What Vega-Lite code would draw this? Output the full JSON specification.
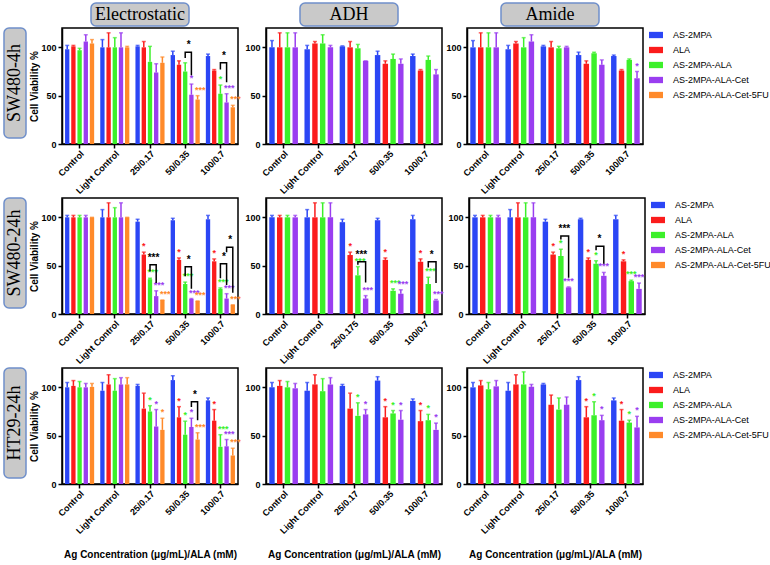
{
"$schema": "https://vega.github.io/schema/vega-lite/v6.json",
"padding": {"left": 3, "top": 2, "right": 0, "bottom": 0},
"background": "white",
"datasets": {
"bars": [
{"r":"SW480-4h","c":"Electrostatic","g":"Control","s":"AS-2MPA","v":98,"hi":102},
{"r":"SW480-4h","c":"Electrostatic","g":"Control","s":"ALA","v":101,"hi":102},
{"r":"SW480-4h","c":"Electrostatic","g":"Control","s":"AS-2MPA-ALA","v":97,"hi":99},
{"r":"SW480-4h","c":"Electrostatic","g":"Control","s":"AS-2MPA-ALA-Cet","v":106,"hi":113},
{"r":"SW480-4h","c":"Electrostatic","g":"Control","s":"AS-2MPA-ALA-Cet-5FU","v":104,"hi":108},
{"r":"SW480-4h","c":"Electrostatic","g":"Light Control","s":"AS-2MPA","v":100,"hi":108},
{"r":"SW480-4h","c":"Electrostatic","g":"Light Control","s":"ALA","v":100,"hi":115},
{"r":"SW480-4h","c":"Electrostatic","g":"Light Control","s":"AS-2MPA-ALA","v":100,"hi":110},
{"r":"SW480-4h","c":"Electrostatic","g":"Light Control","s":"AS-2MPA-ALA-Cet","v":100,"hi":115},
{"r":"SW480-4h","c":"Electrostatic","g":"Light Control","s":"AS-2MPA-ALA-Cet-5FU","v":100,"hi":101},
{"r":"SW480-4h","c":"Electrostatic","g":"25/0.17","s":"AS-2MPA","v":101,"hi":102},
{"r":"SW480-4h","c":"Electrostatic","g":"25/0.17","s":"ALA","v":100,"hi":106},
{"r":"SW480-4h","c":"Electrostatic","g":"25/0.17","s":"AS-2MPA-ALA","v":85,"hi":101},
{"r":"SW480-4h","c":"Electrostatic","g":"25/0.17","s":"AS-2MPA-ALA-Cet","v":74,"hi":83},
{"r":"SW480-4h","c":"Electrostatic","g":"25/0.17","s":"AS-2MPA-ALA-Cet-5FU","v":84,"hi":90},
{"r":"SW480-4h","c":"Electrostatic","g":"50/0.35","s":"AS-2MPA","v":92,"hi":96},
{"r":"SW480-4h","c":"Electrostatic","g":"50/0.35","s":"ALA","v":82,"hi":86},
{"r":"SW480-4h","c":"Electrostatic","g":"50/0.35","s":"AS-2MPA-ALA","v":75,"hi":84},
{"r":"SW480-4h","c":"Electrostatic","g":"50/0.35","s":"AS-2MPA-ALA-Cet","v":51,"hi":62,"sig":"*"},
{"r":"SW480-4h","c":"Electrostatic","g":"50/0.35","s":"AS-2MPA-ALA-Cet-5FU","v":46,"hi":50,"sig":"***"},
{"r":"SW480-4h","c":"Electrostatic","g":"100/0.7","s":"AS-2MPA","v":91,"hi":93},
{"r":"SW480-4h","c":"Electrostatic","g":"100/0.7","s":"ALA","v":76,"hi":77},
{"r":"SW480-4h","c":"Electrostatic","g":"100/0.7","s":"AS-2MPA-ALA","v":52,"hi":61,"sig":"*"},
{"r":"SW480-4h","c":"Electrostatic","g":"100/0.7","s":"AS-2MPA-ALA-Cet","v":43,"hi":52,"sig":"***"},
{"r":"SW480-4h","c":"Electrostatic","g":"100/0.7","s":"AS-2MPA-ALA-Cet-5FU","v":38,"hi":40,"sig":"***"},
{"r":"SW480-4h","c":"ADH","g":"Control","s":"AS-2MPA","v":100,"hi":107},
{"r":"SW480-4h","c":"ADH","g":"Control","s":"ALA","v":100,"hi":115},
{"r":"SW480-4h","c":"ADH","g":"Control","s":"AS-2MPA-ALA","v":100,"hi":115},
{"r":"SW480-4h","c":"ADH","g":"Control","s":"AS-2MPA-ALA-Cet","v":100,"hi":115},
{"r":"SW480-4h","c":"ADH","g":"Light Control","s":"AS-2MPA","v":98,"hi":102},
{"r":"SW480-4h","c":"ADH","g":"Light Control","s":"ALA","v":104,"hi":106},
{"r":"SW480-4h","c":"ADH","g":"Light Control","s":"AS-2MPA-ALA","v":104,"hi":113},
{"r":"SW480-4h","c":"ADH","g":"Light Control","s":"AS-2MPA-ALA-Cet","v":100,"hi":102},
{"r":"SW480-4h","c":"ADH","g":"25/0.17","s":"AS-2MPA","v":101,"hi":101.5},
{"r":"SW480-4h","c":"ADH","g":"25/0.17","s":"ALA","v":100,"hi":106},
{"r":"SW480-4h","c":"ADH","g":"25/0.17","s":"AS-2MPA-ALA","v":99,"hi":103},
{"r":"SW480-4h","c":"ADH","g":"25/0.17","s":"AS-2MPA-ALA-Cet","v":86,"hi":86},
{"r":"SW480-4h","c":"ADH","g":"50/0.35","s":"AS-2MPA","v":92,"hi":96},
{"r":"SW480-4h","c":"ADH","g":"50/0.35","s":"ALA","v":83,"hi":86},
{"r":"SW480-4h","c":"ADH","g":"50/0.35","s":"AS-2MPA-ALA","v":88,"hi":93},
{"r":"SW480-4h","c":"ADH","g":"50/0.35","s":"AS-2MPA-ALA-Cet","v":83,"hi":88},
{"r":"SW480-4h","c":"ADH","g":"100/0.7","s":"AS-2MPA","v":91,"hi":93},
{"r":"SW480-4h","c":"ADH","g":"100/0.7","s":"ALA","v":76,"hi":77},
{"r":"SW480-4h","c":"ADH","g":"100/0.7","s":"AS-2MPA-ALA","v":87,"hi":91},
{"r":"SW480-4h","c":"ADH","g":"100/0.7","s":"AS-2MPA-ALA-Cet","v":72,"hi":77},
{"r":"SW480-4h","c":"Amide","g":"Control","s":"AS-2MPA","v":100,"hi":107},
{"r":"SW480-4h","c":"Amide","g":"Control","s":"ALA","v":100,"hi":115},
{"r":"SW480-4h","c":"Amide","g":"Control","s":"AS-2MPA-ALA","v":100,"hi":115},
{"r":"SW480-4h","c":"Amide","g":"Control","s":"AS-2MPA-ALA-Cet","v":100,"hi":115},
{"r":"SW480-4h","c":"Amide","g":"Light Control","s":"AS-2MPA","v":98,"hi":102},
{"r":"SW480-4h","c":"Amide","g":"Light Control","s":"ALA","v":104,"hi":106},
{"r":"SW480-4h","c":"Amide","g":"Light Control","s":"AS-2MPA-ALA","v":100,"hi":110},
{"r":"SW480-4h","c":"Amide","g":"Light Control","s":"AS-2MPA-ALA-Cet","v":106,"hi":113},
{"r":"SW480-4h","c":"Amide","g":"25/0.17","s":"AS-2MPA","v":101,"hi":102},
{"r":"SW480-4h","c":"Amide","g":"25/0.17","s":"ALA","v":100,"hi":106},
{"r":"SW480-4h","c":"Amide","g":"25/0.17","s":"AS-2MPA-ALA","v":99,"hi":101},
{"r":"SW480-4h","c":"Amide","g":"25/0.17","s":"AS-2MPA-ALA-Cet","v":100,"hi":101},
{"r":"SW480-4h","c":"Amide","g":"50/0.35","s":"AS-2MPA","v":92,"hi":95},
{"r":"SW480-4h","c":"Amide","g":"50/0.35","s":"ALA","v":83,"hi":86},
{"r":"SW480-4h","c":"Amide","g":"50/0.35","s":"AS-2MPA-ALA","v":94,"hi":95},
{"r":"SW480-4h","c":"Amide","g":"50/0.35","s":"AS-2MPA-ALA-Cet","v":82,"hi":87},
{"r":"SW480-4h","c":"Amide","g":"100/0.7","s":"AS-2MPA","v":91,"hi":92},
{"r":"SW480-4h","c":"Amide","g":"100/0.7","s":"ALA","v":76,"hi":77},
{"r":"SW480-4h","c":"Amide","g":"100/0.7","s":"AS-2MPA-ALA","v":87,"hi":88},
{"r":"SW480-4h","c":"Amide","g":"100/0.7","s":"AS-2MPA-ALA-Cet","v":68,"hi":75,"sig":"*"},
{"r":"SW480-24h","c":"Electrostatic","g":"Control","s":"AS-2MPA","v":100,"hi":102},
{"r":"SW480-24h","c":"Electrostatic","g":"Control","s":"ALA","v":100,"hi":102},
{"r":"SW480-24h","c":"Electrostatic","g":"Control","s":"AS-2MPA-ALA","v":100,"hi":102},
{"r":"SW480-24h","c":"Electrostatic","g":"Control","s":"AS-2MPA-ALA-Cet","v":100,"hi":102},
{"r":"SW480-24h","c":"Electrostatic","g":"Control","s":"AS-2MPA-ALA-Cet-5FU","v":100,"hi":100},
{"r":"SW480-24h","c":"Electrostatic","g":"Light Control","s":"AS-2MPA","v":100,"hi":108},
{"r":"SW480-24h","c":"Electrostatic","g":"Light Control","s":"ALA","v":100,"hi":115},
{"r":"SW480-24h","c":"Electrostatic","g":"Light Control","s":"AS-2MPA-ALA","v":100,"hi":110},
{"r":"SW480-24h","c":"Electrostatic","g":"Light Control","s":"AS-2MPA-ALA-Cet","v":100,"hi":115},
{"r":"SW480-24h","c":"Electrostatic","g":"Light Control","s":"AS-2MPA-ALA-Cet-5FU","v":100,"hi":100},
{"r":"SW480-24h","c":"Electrostatic","g":"25/0.17","s":"AS-2MPA","v":95.5,"hi":98},
{"r":"SW480-24h","c":"Electrostatic","g":"25/0.17","s":"ALA","v":61.5,"hi":64,"sig":"*"},
{"r":"SW480-24h","c":"Electrostatic","g":"25/0.17","s":"AS-2MPA-ALA","v":36,"hi":37,"sig":"***"},
{"r":"SW480-24h","c":"Electrostatic","g":"25/0.17","s":"AS-2MPA-ALA-Cet","v":18.5,"hi":24,"sig":"***"},
{"r":"SW480-24h","c":"Electrostatic","g":"25/0.17","s":"AS-2MPA-ALA-Cet-5FU","v":14.5,"hi":14.5,"sig":"***"},
{"r":"SW480-24h","c":"Electrostatic","g":"50/0.35","s":"AS-2MPA","v":97,"hi":99},
{"r":"SW480-24h","c":"Electrostatic","g":"50/0.35","s":"ALA","v":56,"hi":58,"sig":"*"},
{"r":"SW480-24h","c":"Electrostatic","g":"50/0.35","s":"AS-2MPA-ALA","v":31,"hi":33,"sig":"***"},
{"r":"SW480-24h","c":"Electrostatic","g":"50/0.35","s":"AS-2MPA-ALA-Cet","v":15.5,"hi":16,"sig":"***"},
{"r":"SW480-24h","c":"Electrostatic","g":"50/0.35","s":"AS-2MPA-ALA-Cet-5FU","v":13.5,"hi":13.5,"sig":"***"},
{"r":"SW480-24h","c":"Electrostatic","g":"100/0.7","s":"AS-2MPA","v":98,"hi":102},
{"r":"SW480-24h","c":"Electrostatic","g":"100/0.7","s":"ALA","v":54.5,"hi":57,"sig":"*"},
{"r":"SW480-24h","c":"Electrostatic","g":"100/0.7","s":"AS-2MPA-ALA","v":26,"hi":27,"sig":"***"},
{"r":"SW480-24h","c":"Electrostatic","g":"100/0.7","s":"AS-2MPA-ALA-Cet","v":16,"hi":21,"sig":"***"},
{"r":"SW480-24h","c":"Electrostatic","g":"100/0.7","s":"AS-2MPA-ALA-Cet-5FU","v":9.5,"hi":9.5,"sig":"***"},
{"r":"SW480-24h","c":"ADH","g":"Control","s":"AS-2MPA","v":100,"hi":102},
{"r":"SW480-24h","c":"ADH","g":"Control","s":"ALA","v":100,"hi":102},
{"r":"SW480-24h","c":"ADH","g":"Control","s":"AS-2MPA-ALA","v":100,"hi":102},
{"r":"SW480-24h","c":"ADH","g":"Control","s":"AS-2MPA-ALA-Cet","v":100,"hi":102},
{"r":"SW480-24h","c":"ADH","g":"Light Control","s":"AS-2MPA","v":100,"hi":108},
{"r":"SW480-24h","c":"ADH","g":"Light Control","s":"ALA","v":100,"hi":115},
{"r":"SW480-24h","c":"ADH","g":"Light Control","s":"AS-2MPA-ALA","v":100,"hi":115},
{"r":"SW480-24h","c":"ADH","g":"Light Control","s":"AS-2MPA-ALA-Cet","v":100,"hi":115},
{"r":"SW480-24h","c":"ADH","g":"25/0.175","s":"AS-2MPA","v":95,"hi":98},
{"r":"SW480-24h","c":"ADH","g":"25/0.175","s":"ALA","v":61,"hi":64,"sig":"*"},
{"r":"SW480-24h","c":"ADH","g":"25/0.175","s":"AS-2MPA-ALA","v":40,"hi":49,"sig":"***"},
{"r":"SW480-24h","c":"ADH","g":"25/0.175","s":"AS-2MPA-ALA-Cet","v":16,"hi":19,"sig":"***"},
{"r":"SW480-24h","c":"ADH","g":"50/0.35","s":"AS-2MPA","v":97,"hi":99},
{"r":"SW480-24h","c":"ADH","g":"50/0.35","s":"ALA","v":56,"hi":58,"sig":"*"},
{"r":"SW480-24h","c":"ADH","g":"50/0.35","s":"AS-2MPA-ALA","v":24,"hi":26,"sig":"***"},
{"r":"SW480-24h","c":"ADH","g":"50/0.35","s":"AS-2MPA-ALA-Cet","v":21,"hi":25,"sig":"***"},
{"r":"SW480-24h","c":"ADH","g":"100/0.7","s":"AS-2MPA","v":98,"hi":102},
{"r":"SW480-24h","c":"ADH","g":"100/0.7","s":"ALA","v":54,"hi":57,"sig":"*"},
{"r":"SW480-24h","c":"ADH","g":"100/0.7","s":"AS-2MPA-ALA","v":31,"hi":38,"sig":"***"},
{"r":"SW480-24h","c":"ADH","g":"100/0.7","s":"AS-2MPA-ALA-Cet","v":14,"hi":15,"sig":"***"},
{"r":"SW480-24h","c":"Amide","g":"Control","s":"AS-2MPA","v":100,"hi":102},
{"r":"SW480-24h","c":"Amide","g":"Control","s":"ALA","v":100,"hi":102},
{"r":"SW480-24h","c":"Amide","g":"Control","s":"AS-2MPA-ALA","v":100,"hi":102},
{"r":"SW480-24h","c":"Amide","g":"Control","s":"AS-2MPA-ALA-Cet","v":100,"hi":102},
{"r":"SW480-24h","c":"Amide","g":"Light Control","s":"AS-2MPA","v":100,"hi":108},
{"r":"SW480-24h","c":"Amide","g":"Light Control","s":"ALA","v":100,"hi":115},
{"r":"SW480-24h","c":"Amide","g":"Light Control","s":"AS-2MPA-ALA","v":100,"hi":115},
{"r":"SW480-24h","c":"Amide","g":"Light Control","s":"AS-2MPA-ALA-Cet","v":100,"hi":115},
{"r":"SW480-24h","c":"Amide","g":"25/0.17","s":"AS-2MPA","v":95.5,"hi":98},
{"r":"SW480-24h","c":"Amide","g":"25/0.17","s":"ALA","v":61.5,"hi":64,"sig":"*"},
{"r":"SW480-24h","c":"Amide","g":"25/0.17","s":"AS-2MPA-ALA","v":60,"hi":67,"sig":"*"},
{"r":"SW480-24h","c":"Amide","g":"25/0.17","s":"AS-2MPA-ALA-Cet","v":27.5,"hi":28,"sig":"***"},
{"r":"SW480-24h","c":"Amide","g":"50/0.35","s":"AS-2MPA","v":98,"hi":99},
{"r":"SW480-24h","c":"Amide","g":"50/0.35","s":"ALA","v":56,"hi":58,"sig":"*"},
{"r":"SW480-24h","c":"Amide","g":"50/0.35","s":"AS-2MPA-ALA","v":52,"hi":55,"sig":"*"},
{"r":"SW480-24h","c":"Amide","g":"50/0.35","s":"AS-2MPA-ALA-Cet","v":39.5,"hi":43,"sig":"***"},
{"r":"SW480-24h","c":"Amide","g":"100/0.7","s":"AS-2MPA","v":98,"hi":102},
{"r":"SW480-24h","c":"Amide","g":"100/0.7","s":"ALA","v":54.5,"hi":56,"sig":"*"},
{"r":"SW480-24h","c":"Amide","g":"100/0.7","s":"AS-2MPA-ALA","v":34,"hi":35,"sig":"***"},
{"r":"SW480-24h","c":"Amide","g":"100/0.7","s":"AS-2MPA-ALA-Cet","v":26,"hi":32,"sig":"***"},
{"r":"HT29-24h","c":"Electrostatic","g":"Control","s":"AS-2MPA","v":100,"hi":105},
{"r":"HT29-24h","c":"Electrostatic","g":"Control","s":"ALA","v":101.5,"hi":107},
{"r":"HT29-24h","c":"Electrostatic","g":"Control","s":"AS-2MPA-ALA","v":100,"hi":106},
{"r":"HT29-24h","c":"Electrostatic","g":"Control","s":"AS-2MPA-ALA-Cet","v":100,"hi":104},
{"r":"HT29-24h","c":"Electrostatic","g":"Control","s":"AS-2MPA-ALA-Cet-5FU","v":100.5,"hi":104},
{"r":"HT29-24h","c":"Electrostatic","g":"Light Control","s":"AS-2MPA","v":96.5,"hi":105},
{"r":"HT29-24h","c":"Electrostatic","g":"Light Control","s":"ALA","v":103,"hi":113},
{"r":"HT29-24h","c":"Electrostatic","g":"Light Control","s":"AS-2MPA-ALA","v":96.5,"hi":109},
{"r":"HT29-24h","c":"Electrostatic","g":"Light Control","s":"AS-2MPA-ALA-Cet","v":103,"hi":110},
{"r":"HT29-24h","c":"Electrostatic","g":"Light Control","s":"AS-2MPA-ALA-Cet-5FU","v":103,"hi":110},
{"r":"HT29-24h","c":"Electrostatic","g":"25/0.17","s":"AS-2MPA","v":101.5,"hi":103},
{"r":"HT29-24h","c":"Electrostatic","g":"25/0.17","s":"ALA","v":78,"hi":94},
{"r":"HT29-24h","c":"Electrostatic","g":"25/0.17","s":"AS-2MPA-ALA","v":75,"hi":81,"sig":"*"},
{"r":"HT29-24h","c":"Electrostatic","g":"25/0.17","s":"AS-2MPA-ALA-Cet","v":59.5,"hi":77,"sig":"*"},
{"r":"HT29-24h","c":"Electrostatic","g":"25/0.17","s":"AS-2MPA-ALA-Cet-5FU","v":56,"hi":68,"sig":"*"},
{"r":"HT29-24h","c":"Electrostatic","g":"50/0.35","s":"AS-2MPA","v":107.5,"hi":112},
{"r":"HT29-24h","c":"Electrostatic","g":"50/0.35","s":"ALA","v":69,"hi":80,"sig":"*"},
{"r":"HT29-24h","c":"Electrostatic","g":"50/0.35","s":"AS-2MPA-ALA","v":51,"hi":65,"sig":"*"},
{"r":"HT29-24h","c":"Electrostatic","g":"50/0.35","s":"AS-2MPA-ALA-Cet","v":59,"hi":68,"sig":"*"},
{"r":"HT29-24h","c":"Electrostatic","g":"50/0.35","s":"AS-2MPA-ALA-Cet-5FU","v":46,"hi":53,"sig":"***"},
{"r":"HT29-24h","c":"Electrostatic","g":"100/0.7","s":"AS-2MPA","v":86.5,"hi":89},
{"r":"HT29-24h","c":"Electrostatic","g":"100/0.7","s":"ALA","v":65.5,"hi":77,"sig":"*"},
{"r":"HT29-24h","c":"Electrostatic","g":"100/0.7","s":"AS-2MPA-ALA","v":38.5,"hi":51,"sig":"***"},
{"r":"HT29-24h","c":"Electrostatic","g":"100/0.7","s":"AS-2MPA-ALA-Cet","v":39,"hi":46,"sig":"***"},
{"r":"HT29-24h","c":"Electrostatic","g":"100/0.7","s":"AS-2MPA-ALA-Cet-5FU","v":29.5,"hi":37,"sig":"***"},
{"r":"HT29-24h","c":"ADH","g":"Control","s":"AS-2MPA","v":100,"hi":105},
{"r":"HT29-24h","c":"ADH","g":"Control","s":"ALA","v":101.5,"hi":107},
{"r":"HT29-24h","c":"ADH","g":"Control","s":"AS-2MPA-ALA","v":100,"hi":106},
{"r":"HT29-24h","c":"ADH","g":"Control","s":"AS-2MPA-ALA-Cet","v":99,"hi":104},
{"r":"HT29-24h","c":"ADH","g":"Light Control","s":"AS-2MPA","v":96.5,"hi":105},
{"r":"HT29-24h","c":"ADH","g":"Light Control","s":"ALA","v":103,"hi":113},
{"r":"HT29-24h","c":"ADH","g":"Light Control","s":"AS-2MPA-ALA","v":96,"hi":109},
{"r":"HT29-24h","c":"ADH","g":"Light Control","s":"AS-2MPA-ALA-Cet","v":103,"hi":110},
{"r":"HT29-24h","c":"ADH","g":"25/0.17","s":"AS-2MPA","v":101.5,"hi":103},
{"r":"HT29-24h","c":"ADH","g":"25/0.17","s":"ALA","v":78,"hi":94},
{"r":"HT29-24h","c":"ADH","g":"25/0.17","s":"AS-2MPA-ALA","v":70.5,"hi":84,"sig":"*"},
{"r":"HT29-24h","c":"ADH","g":"25/0.17","s":"AS-2MPA-ALA-Cet","v":72,"hi":77,"sig":"*"},
{"r":"HT29-24h","c":"ADH","g":"50/0.35","s":"AS-2MPA","v":107,"hi":111},
{"r":"HT29-24h","c":"ADH","g":"50/0.35","s":"ALA","v":69,"hi":80,"sig":"*"},
{"r":"HT29-24h","c":"ADH","g":"50/0.35","s":"AS-2MPA-ALA","v":73,"hi":76,"sig":"*"},
{"r":"HT29-24h","c":"ADH","g":"50/0.35","s":"AS-2MPA-ALA-Cet","v":66.5,"hi":76,"sig":"*"},
{"r":"HT29-24h","c":"ADH","g":"100/0.7","s":"AS-2MPA","v":86,"hi":88},
{"r":"HT29-24h","c":"ADH","g":"100/0.7","s":"ALA","v":65,"hi":76,"sig":"*"},
{"r":"HT29-24h","c":"ADH","g":"100/0.7","s":"AS-2MPA-ALA","v":66,"hi":72,"sig":"*"},
{"r":"HT29-24h","c":"ADH","g":"100/0.7","s":"AS-2MPA-ALA-Cet","v":56,"hi":63,"sig":"*"},
{"r":"HT29-24h","c":"Amide","g":"Control","s":"AS-2MPA","v":100,"hi":105},
{"r":"HT29-24h","c":"Amide","g":"Control","s":"ALA","v":102,"hi":107},
{"r":"HT29-24h","c":"Amide","g":"Control","s":"AS-2MPA-ALA","v":98,"hi":105},
{"r":"HT29-24h","c":"Amide","g":"Control","s":"AS-2MPA-ALA-Cet","v":101,"hi":107},
{"r":"HT29-24h","c":"Amide","g":"Light Control","s":"AS-2MPA","v":96.5,"hi":105},
{"r":"HT29-24h","c":"Amide","g":"Light Control","s":"ALA","v":103,"hi":113},
{"r":"HT29-24h","c":"Amide","g":"Light Control","s":"AS-2MPA-ALA","v":103,"hi":116},
{"r":"HT29-24h","c":"Amide","g":"Light Control","s":"AS-2MPA-ALA-Cet","v":100.5,"hi":103},
{"r":"HT29-24h","c":"Amide","g":"25/0.17","s":"AS-2MPA","v":103,"hi":104},
{"r":"HT29-24h","c":"Amide","g":"25/0.17","s":"ALA","v":82,"hi":92},
{"r":"HT29-24h","c":"Amide","g":"25/0.17","s":"AS-2MPA-ALA","v":77,"hi":89},
{"r":"HT29-24h","c":"Amide","g":"25/0.17","s":"AS-2MPA-ALA-Cet","v":82,"hi":90},
{"r":"HT29-24h","c":"Amide","g":"50/0.35","s":"AS-2MPA","v":107.5,"hi":111},
{"r":"HT29-24h","c":"Amide","g":"50/0.35","s":"ALA","v":69,"hi":80,"sig":"*"},
{"r":"HT29-24h","c":"Amide","g":"50/0.35","s":"AS-2MPA-ALA","v":71,"hi":85,"sig":"*"},
{"r":"HT29-24h","c":"Amide","g":"50/0.35","s":"AS-2MPA-ALA-Cet","v":66,"hi":71,"sig":"*"},
{"r":"HT29-24h","c":"Amide","g":"100/0.7","s":"AS-2MPA","v":86.5,"hi":89},
{"r":"HT29-24h","c":"Amide","g":"100/0.7","s":"ALA","v":65.5,"hi":77,"sig":"*"},
{"r":"HT29-24h","c":"Amide","g":"100/0.7","s":"AS-2MPA-ALA","v":63.5,"hi":66,"sig":"*"},
{"r":"HT29-24h","c":"Amide","g":"100/0.7","s":"AS-2MPA-ALA-Cet","v":58.5,"hi":70,"sig":"*"}
],
"br": [
{"r":"SW480-4h","c":"Electrostatic","g":"50/0.35","id":1,"s":"AS-2MPA-ALA","y":89,"o":1},
{"r":"SW480-4h","c":"Electrostatic","g":"50/0.35","id":1,"s":"AS-2MPA-ALA","y":95,"o":2},
{"r":"SW480-4h","c":"Electrostatic","g":"50/0.35","id":1,"s":"AS-2MPA-ALA-Cet","y":95,"o":3},
{"r":"SW480-4h","c":"Electrostatic","g":"50/0.35","id":1,"s":"AS-2MPA-ALA-Cet","y":71,"o":4},
{"r":"SW480-4h","c":"Electrostatic","g":"100/0.7","id":2,"s":"AS-2MPA-ALA","y":77,"o":1},
{"r":"SW480-4h","c":"Electrostatic","g":"100/0.7","id":2,"s":"AS-2MPA-ALA","y":84,"o":2},
{"r":"SW480-4h","c":"Electrostatic","g":"100/0.7","id":2,"s":"AS-2MPA-ALA-Cet","y":84,"o":3},
{"r":"SW480-4h","c":"Electrostatic","g":"100/0.7","id":2,"s":"AS-2MPA-ALA-Cet","y":64,"o":4},
{"r":"SW480-24h","c":"Electrostatic","g":"25/0.17","id":3,"s":"AS-2MPA-ALA","y":44,"o":1},
{"r":"SW480-24h","c":"Electrostatic","g":"25/0.17","id":3,"s":"AS-2MPA-ALA","y":51,"o":2},
{"r":"SW480-24h","c":"Electrostatic","g":"25/0.17","id":3,"s":"AS-2MPA-ALA-Cet","y":51,"o":3},
{"r":"SW480-24h","c":"Electrostatic","g":"25/0.17","id":3,"s":"AS-2MPA-ALA-Cet","y":32,"o":4},
{"r":"SW480-24h","c":"Electrostatic","g":"50/0.35","id":4,"s":"AS-2MPA-ALA","y":39,"o":1},
{"r":"SW480-24h","c":"Electrostatic","g":"50/0.35","id":4,"s":"AS-2MPA-ALA","y":49,"o":2},
{"r":"SW480-24h","c":"Electrostatic","g":"50/0.35","id":4,"s":"AS-2MPA-ALA-Cet","y":49,"o":3},
{"r":"SW480-24h","c":"Electrostatic","g":"50/0.35","id":4,"s":"AS-2MPA-ALA-Cet","y":26,"o":4},
{"r":"SW480-24h","c":"Electrostatic","g":"100/0.7","id":5,"s":"AS-2MPA-ALA","y":37,"o":1},
{"r":"SW480-24h","c":"Electrostatic","g":"100/0.7","id":5,"s":"AS-2MPA-ALA","y":52,"o":2},
{"r":"SW480-24h","c":"Electrostatic","g":"100/0.7","id":5,"s":"AS-2MPA-ALA-Cet","y":52,"o":3},
{"r":"SW480-24h","c":"Electrostatic","g":"100/0.7","id":5,"s":"AS-2MPA-ALA-Cet","y":30,"o":4},
{"r":"SW480-24h","c":"Electrostatic","g":"100/0.7","id":6,"s":"AS-2MPA-ALA-Cet","y":64,"o":1},
{"r":"SW480-24h","c":"Electrostatic","g":"100/0.7","id":6,"s":"AS-2MPA-ALA-Cet","y":69,"o":2},
{"r":"SW480-24h","c":"Electrostatic","g":"100/0.7","id":6,"s":"AS-2MPA-ALA-Cet-5FU","y":69,"o":3},
{"r":"SW480-24h","c":"Electrostatic","g":"100/0.7","id":6,"s":"AS-2MPA-ALA-Cet-5FU","y":22,"o":4},
{"r":"SW480-24h","c":"ADH","g":"25/0.175","id":7,"s":"AS-2MPA-ALA","y":51,"o":1},
{"r":"SW480-24h","c":"ADH","g":"25/0.175","id":7,"s":"AS-2MPA-ALA","y":54,"o":2},
{"r":"SW480-24h","c":"ADH","g":"25/0.175","id":7,"s":"AS-2MPA-ALA-Cet","y":54,"o":3},
{"r":"SW480-24h","c":"ADH","g":"25/0.175","id":7,"s":"AS-2MPA-ALA-Cet","y":32.5,"o":4},
{"r":"SW480-24h","c":"ADH","g":"100/0.7","id":8,"s":"AS-2MPA-ALA","y":48,"o":1},
{"r":"SW480-24h","c":"ADH","g":"100/0.7","id":8,"s":"AS-2MPA-ALA","y":54,"o":2},
{"r":"SW480-24h","c":"ADH","g":"100/0.7","id":8,"s":"AS-2MPA-ALA-Cet","y":54,"o":3},
{"r":"SW480-24h","c":"ADH","g":"100/0.7","id":8,"s":"AS-2MPA-ALA-Cet","y":32,"o":4},
{"r":"SW480-24h","c":"Amide","g":"25/0.17","id":9,"s":"AS-2MPA-ALA","y":77,"o":1},
{"r":"SW480-24h","c":"Amide","g":"25/0.17","id":9,"s":"AS-2MPA-ALA","y":80.7,"o":2},
{"r":"SW480-24h","c":"Amide","g":"25/0.17","id":9,"s":"AS-2MPA-ALA-Cet","y":80.7,"o":3},
{"r":"SW480-24h","c":"Amide","g":"25/0.17","id":9,"s":"AS-2MPA-ALA-Cet","y":37.5,"o":4},
{"r":"SW480-24h","c":"Amide","g":"50/0.35","id":10,"s":"AS-2MPA-ALA","y":66,"o":1},
{"r":"SW480-24h","c":"Amide","g":"50/0.35","id":10,"s":"AS-2MPA-ALA","y":70,"o":2},
{"r":"SW480-24h","c":"Amide","g":"50/0.35","id":10,"s":"AS-2MPA-ALA-Cet","y":70,"o":3},
{"r":"SW480-24h","c":"Amide","g":"50/0.35","id":10,"s":"AS-2MPA-ALA-Cet","y":52,"o":4},
{"r":"HT29-24h","c":"Electrostatic","g":"50/0.35","id":11,"s":"AS-2MPA-ALA-Cet","y":79.6,"o":1},
{"r":"HT29-24h","c":"Electrostatic","g":"50/0.35","id":11,"s":"AS-2MPA-ALA-Cet","y":85,"o":2},
{"r":"HT29-24h","c":"Electrostatic","g":"50/0.35","id":11,"s":"AS-2MPA-ALA-Cet-5FU","y":85,"o":3},
{"r":"HT29-24h","c":"Electrostatic","g":"50/0.35","id":11,"s":"AS-2MPA-ALA-Cet-5FU","y":66,"o":4}
],
"bl": [
{"r":"SW480-4h","c":"Electrostatic","g":"50/0.35","s":"AS-2MPA-ALA","y":95,"t":"*"},
{"r":"SW480-4h","c":"Electrostatic","g":"100/0.7","s":"AS-2MPA-ALA","y":84,"t":"*"},
{"r":"SW480-24h","c":"Electrostatic","g":"25/0.17","s":"AS-2MPA-ALA","y":51,"t":"***"},
{"r":"SW480-24h","c":"Electrostatic","g":"50/0.35","s":"AS-2MPA-ALA","y":49,"t":"*"},
{"r":"SW480-24h","c":"Electrostatic","g":"100/0.7","s":"AS-2MPA-ALA","y":52,"t":"*"},
{"r":"SW480-24h","c":"Electrostatic","g":"100/0.7","s":"AS-2MPA-ALA-Cet","y":69,"t":"*"},
{"r":"SW480-24h","c":"ADH","g":"25/0.175","s":"AS-2MPA-ALA","y":54,"t":"***"},
{"r":"SW480-24h","c":"ADH","g":"100/0.7","s":"AS-2MPA-ALA","y":54,"t":"*"},
{"r":"SW480-24h","c":"Amide","g":"25/0.17","s":"AS-2MPA-ALA","y":80.7,"t":"***"},
{"r":"SW480-24h","c":"Amide","g":"50/0.35","s":"AS-2MPA-ALA","y":70,"t":"*"},
{"r":"HT29-24h","c":"Electrostatic","g":"50/0.35","s":"AS-2MPA-ALA-Cet","y":85,"t":"*"}
]
},
"vconcat": [
{"hconcat": [
 {"width": 86, "height": 23, "data": {"values": [{"t": ""}]}, "mark": {"type": "text"}, "encoding": {"text": {"field": "t", "type": "nominal"}}, "view": {"stroke": null}},
 {"width": 98, "height": 23, "data": {"values": [{"t": "Electrostatic"}]}, "mark": {"type": "text", "font": "Liberation Serif", "fontSize": 18, "color": "black"}, "encoding": {"text": {"field": "t", "type": "nominal"}}, "view": {"fill": "#c9c9c9", "stroke": "#6f8fca", "strokeWidth": 1.5, "cornerRadius": 5}},
 {"width": 109, "height": 23, "data": {"values": [{"t": ""}]}, "mark": {"type": "text"}, "encoding": {"text": {"field": "t", "type": "nominal"}}, "view": {"stroke": null}},
 {"width": 98, "height": 23, "data": {"values": [{"t": "ADH"}]}, "mark": {"type": "text", "font": "Liberation Serif", "fontSize": 18, "color": "black"}, "encoding": {"text": {"field": "t", "type": "nominal"}}, "view": {"fill": "#c9c9c9", "stroke": "#6f8fca", "strokeWidth": 1.5, "cornerRadius": 5}},
 {"width": 101, "height": 23, "data": {"values": [{"t": ""}]}, "mark": {"type": "text"}, "encoding": {"text": {"field": "t", "type": "nominal"}}, "view": {"stroke": null}},
 {"width": 98, "height": 23, "data": {"values": [{"t": "Amide"}]}, "mark": {"type": "text", "font": "Liberation Serif", "fontSize": 18, "color": "black"}, "encoding": {"text": {"field": "t", "type": "nominal"}}, "view": {"fill": "#c9c9c9", "stroke": "#6f8fca", "strokeWidth": 1.5, "cornerRadius": 5}}
], "spacing": 0},
{"hconcat": [
 {"width": 22, "height": 110, "data": {"values": [{"t": "SW480-4h"}]}, "mark": {"type": "text", "angle": 270, "font": "Liberation Serif", "fontSize": 18, "color": "black"}, "encoding": {"text": {"field": "t", "type": "nominal"}}, "view": {"fill": "#c9c9c9", "stroke": "#6f8fca", "strokeWidth": 1.5, "cornerRadius": 5}},
 {"width": 176, "height": 116,
  "encoding": {
   "x": {"field": "g", "type": "nominal", "sort": ["Control","Light Control","25/0.17","25/0.175","50/0.35","100/0.7"], "scale": {"paddingInner": 0.12, "paddingOuter": 0.06}, "axis": {"title": null}},
   "xOffset": {"field": "s", "type": "nominal", "sort": ["AS-2MPA","ALA","AS-2MPA-ALA","AS-2MPA-ALA-Cet","AS-2MPA-ALA-Cet-5FU"], "scale": {"paddingInner": 0.3, "paddingOuter": 0.15}},
   "color": {"field": "s", "type": "nominal", "scale": {"domain": ["AS-2MPA","ALA","AS-2MPA-ALA","AS-2MPA-ALA-Cet","AS-2MPA-ALA-Cet-5FU"], "range": ["#2b46f5","#fb1c1c","#3cf02a","#9a3ef0","#ff8a2a"]}, "legend": {"title": null}}
  },
  "layer": [
   {"data": {"name": "bars"}, "transform": [{"filter": "datum.r=='SW480-4h'&&datum.c=='Electrostatic'"}], "mark": {"type": "bar"}, "encoding": {"y": {"field": "v", "type": "quantitative", "scale": {"domain": [0,120], "nice": false}, "axis": {"title": "Cell Viability %"}}}},
   {"data": {"name": "bars"}, "transform": [{"filter": "datum.r=='SW480-4h'&&datum.c=='Electrostatic'"}], "mark": {"type": "rule", "strokeWidth": 1.5}, "encoding": {"y": {"field": "v", "type": "quantitative", "scale": {"domain": [0,120], "nice": false}, "axis": {"title": "Cell Viability %"}}, "y2": {"field": "hi"}}},
   {"data": {"name": "bars"}, "transform": [{"filter": "datum.r=='SW480-4h'&&datum.c=='Electrostatic'"}], "mark": {"type": "tick", "thickness": 1.5, "size": 4}, "encoding": {"y": {"field": "hi", "type": "quantitative", "scale": {"domain": [0,120], "nice": false}, "axis": {"title": "Cell Viability %"}}}},
   {"data": {"name": "bars"}, "transform": [{"filter": "datum.r=='SW480-4h'&&datum.c=='Electrostatic'&&datum.sig=='*'"}], "mark": {"type": "text", "baseline": "bottom", "dy": -1, "fontWeight": "bold", "fontSize": 9}, "encoding": {"y": {"field": "hi", "type": "quantitative", "scale": {"domain": [0,120], "nice": false}, "axis": {"title": "Cell Viability %"}}, "text": {"field": "sig", "type": "nominal"}}},
   {"data": {"name": "bars"}, "transform": [{"filter": "datum.r=='SW480-4h'&&datum.c=='Electrostatic'&&datum.sig=='***'"}], "mark": {"type": "text", "baseline": "bottom", "align": "left", "dx": -2.5, "dy": -1, "fontWeight": "bold", "fontSize": 9}, "encoding": {"y": {"field": "hi", "type": "quantitative", "scale": {"domain": [0,120], "nice": false}, "axis": {"title": "Cell Viability %"}}, "text": {"field": "sig", "type": "nominal"}}},
   {"data": {"name": "br"}, "transform": [{"filter": "datum.r=='SW480-4h'&&datum.c=='Electrostatic'"}], "mark": {"type": "line", "strokeWidth": 1.5}, "encoding": {"y": {"field": "y", "type": "quantitative", "scale": {"domain": [0,120], "nice": false}, "axis": {"title": "Cell Viability %"}}, "order": {"field": "o", "type": "quantitative"}, "detail": {"field": "id", "type": "nominal"}, "color": {"value": "black"}}},
   {"data": {"name": "bl"}, "transform": [{"filter": "datum.r=='SW480-4h'&&datum.c=='Electrostatic'"}], "mark": {"type": "text", "baseline": "bottom", "dy": -2, "dx": 3.5, "fontWeight": "bold", "fontSize": 10}, "encoding": {"y": {"field": "y", "type": "quantitative", "scale": {"domain": [0,120], "nice": false}, "axis": {"title": "Cell Viability %"}}, "text": {"field": "t", "type": "nominal"}, "color": {"value": "black"}}}
  ]
 },
 {"width": 176, "height": 116,
  "encoding": {
   "x": {"field": "g", "type": "nominal", "sort": ["Control","Light Control","25/0.17","25/0.175","50/0.35","100/0.7"], "scale": {"paddingInner": 0.12, "paddingOuter": 0.06}, "axis": {"title": null}},
   "xOffset": {"field": "s", "type": "nominal", "sort": ["AS-2MPA","ALA","AS-2MPA-ALA","AS-2MPA-ALA-Cet","AS-2MPA-ALA-Cet-5FU"], "scale": {"paddingInner": 0.3, "paddingOuter": 0.15}},
   "color": {"field": "s", "type": "nominal", "scale": {"domain": ["AS-2MPA","ALA","AS-2MPA-ALA","AS-2MPA-ALA-Cet","AS-2MPA-ALA-Cet-5FU"], "range": ["#2b46f5","#fb1c1c","#3cf02a","#9a3ef0","#ff8a2a"]}, "legend": {"title": null}}
  },
  "layer": [
   {"data": {"name": "bars"}, "transform": [{"filter": "datum.r=='SW480-4h'&&datum.c=='ADH'"}], "mark": {"type": "bar"}, "encoding": {"y": {"field": "v", "type": "quantitative", "scale": {"domain": [0,120], "nice": false}, "axis": {"title": null}}}},
   {"data": {"name": "bars"}, "transform": [{"filter": "datum.r=='SW480-4h'&&datum.c=='ADH'"}], "mark": {"type": "rule", "strokeWidth": 1.5}, "encoding": {"y": {"field": "v", "type": "quantitative", "scale": {"domain": [0,120], "nice": false}, "axis": {"title": null}}, "y2": {"field": "hi"}}},
   {"data": {"name": "bars"}, "transform": [{"filter": "datum.r=='SW480-4h'&&datum.c=='ADH'"}], "mark": {"type": "tick", "thickness": 1.5, "size": 4}, "encoding": {"y": {"field": "hi", "type": "quantitative", "scale": {"domain": [0,120], "nice": false}, "axis": {"title": null}}}}
  ]
 },
 {"width": 176, "height": 116,
  "encoding": {
   "x": {"field": "g", "type": "nominal", "sort": ["Control","Light Control","25/0.17","25/0.175","50/0.35","100/0.7"], "scale": {"paddingInner": 0.12, "paddingOuter": 0.06}, "axis": {"title": null}},
   "xOffset": {"field": "s", "type": "nominal", "sort": ["AS-2MPA","ALA","AS-2MPA-ALA","AS-2MPA-ALA-Cet","AS-2MPA-ALA-Cet-5FU"], "scale": {"paddingInner": 0.3, "paddingOuter": 0.15}},
   "color": {"field": "s", "type": "nominal", "scale": {"domain": ["AS-2MPA","ALA","AS-2MPA-ALA","AS-2MPA-ALA-Cet","AS-2MPA-ALA-Cet-5FU"], "range": ["#2b46f5","#fb1c1c","#3cf02a","#9a3ef0","#ff8a2a"]}, "legend": {"title": null}}
  },
  "layer": [
   {"data": {"name": "bars"}, "transform": [{"filter": "datum.r=='SW480-4h'&&datum.c=='Amide'"}], "mark": {"type": "bar"}, "encoding": {"y": {"field": "v", "type": "quantitative", "scale": {"domain": [0,120], "nice": false}, "axis": {"title": null}}}},
   {"data": {"name": "bars"}, "transform": [{"filter": "datum.r=='SW480-4h'&&datum.c=='Amide'"}], "mark": {"type": "rule", "strokeWidth": 1.5}, "encoding": {"y": {"field": "v", "type": "quantitative", "scale": {"domain": [0,120], "nice": false}, "axis": {"title": null}}, "y2": {"field": "hi"}}},
   {"data": {"name": "bars"}, "transform": [{"filter": "datum.r=='SW480-4h'&&datum.c=='Amide'"}], "mark": {"type": "tick", "thickness": 1.5, "size": 4}, "encoding": {"y": {"field": "hi", "type": "quantitative", "scale": {"domain": [0,120], "nice": false}, "axis": {"title": null}}}},
   {"data": {"name": "bars"}, "transform": [{"filter": "datum.r=='SW480-4h'&&datum.c=='Amide'&&datum.sig=='*'"}], "mark": {"type": "text", "baseline": "bottom", "dy": -1, "fontWeight": "bold", "fontSize": 9}, "encoding": {"y": {"field": "hi", "type": "quantitative", "scale": {"domain": [0,120], "nice": false}, "axis": {"title": null}}, "text": {"field": "sig", "type": "nominal"}}}
  ]
 }
], "spacing": 2, "resolve": {"scale": {"x": "independent", "y": "independent", "xOffset": "independent"}}},
{"hconcat": [
 {"width": 22, "height": 110, "data": {"values": [{"t": "SW480-24h"}]}, "mark": {"type": "text", "angle": 270, "font": "Liberation Serif", "fontSize": 18, "color": "black"}, "encoding": {"text": {"field": "t", "type": "nominal"}}, "view": {"fill": "#c9c9c9", "stroke": "#6f8fca", "strokeWidth": 1.5, "cornerRadius": 5}},
 {"width": 176, "height": 116,
  "encoding": {
   "x": {"field": "g", "type": "nominal", "sort": ["Control","Light Control","25/0.17","25/0.175","50/0.35","100/0.7"], "scale": {"paddingInner": 0.12, "paddingOuter": 0.06}, "axis": {"title": null}},
   "xOffset": {"field": "s", "type": "nominal", "sort": ["AS-2MPA","ALA","AS-2MPA-ALA","AS-2MPA-ALA-Cet","AS-2MPA-ALA-Cet-5FU"], "scale": {"paddingInner": 0.3, "paddingOuter": 0.15}},
   "color": {"field": "s", "type": "nominal", "scale": {"domain": ["AS-2MPA","ALA","AS-2MPA-ALA","AS-2MPA-ALA-Cet","AS-2MPA-ALA-Cet-5FU"], "range": ["#2b46f5","#fb1c1c","#3cf02a","#9a3ef0","#ff8a2a"]}, "legend": {"title": null}}
  },
  "layer": [
   {"data": {"name": "bars"}, "transform": [{"filter": "datum.r=='SW480-24h'&&datum.c=='Electrostatic'"}], "mark": {"type": "bar"}, "encoding": {"y": {"field": "v", "type": "quantitative", "scale": {"domain": [0,120], "nice": false}, "axis": {"title": "Cell Viability %"}}}},
   {"data": {"name": "bars"}, "transform": [{"filter": "datum.r=='SW480-24h'&&datum.c=='Electrostatic'"}], "mark": {"type": "rule", "strokeWidth": 1.5}, "encoding": {"y": {"field": "v", "type": "quantitative", "scale": {"domain": [0,120], "nice": false}, "axis": {"title": "Cell Viability %"}}, "y2": {"field": "hi"}}},
   {"data": {"name": "bars"}, "transform": [{"filter": "datum.r=='SW480-24h'&&datum.c=='Electrostatic'"}], "mark": {"type": "tick", "thickness": 1.5, "size": 4}, "encoding": {"y": {"field": "hi", "type": "quantitative", "scale": {"domain": [0,120], "nice": false}, "axis": {"title": "Cell Viability %"}}}},
   {"data": {"name": "bars"}, "transform": [{"filter": "datum.r=='SW480-24h'&&datum.c=='Electrostatic'&&datum.sig=='*'"}], "mark": {"type": "text", "baseline": "bottom", "dy": -1, "fontWeight": "bold", "fontSize": 9}, "encoding": {"y": {"field": "hi", "type": "quantitative", "scale": {"domain": [0,120], "nice": false}, "axis": {"title": "Cell Viability %"}}, "text": {"field": "sig", "type": "nominal"}}},
   {"data": {"name": "bars"}, "transform": [{"filter": "datum.r=='SW480-24h'&&datum.c=='Electrostatic'&&datum.sig=='***'"}], "mark": {"type": "text", "baseline": "bottom", "align": "left", "dx": -2.5, "dy": -1, "fontWeight": "bold", "fontSize": 9}, "encoding": {"y": {"field": "hi", "type": "quantitative", "scale": {"domain": [0,120], "nice": false}, "axis": {"title": "Cell Viability %"}}, "text": {"field": "sig", "type": "nominal"}}},
   {"data": {"name": "br"}, "transform": [{"filter": "datum.r=='SW480-24h'&&datum.c=='Electrostatic'"}], "mark": {"type": "line", "strokeWidth": 1.5}, "encoding": {"y": {"field": "y", "type": "quantitative", "scale": {"domain": [0,120], "nice": false}, "axis": {"title": "Cell Viability %"}}, "order": {"field": "o", "type": "quantitative"}, "detail": {"field": "id", "type": "nominal"}, "color": {"value": "black"}}},
   {"data": {"name": "bl"}, "transform": [{"filter": "datum.r=='SW480-24h'&&datum.c=='Electrostatic'"}], "mark": {"type": "text", "baseline": "bottom", "dy": -2, "dx": 3.5, "fontWeight": "bold", "fontSize": 10}, "encoding": {"y": {"field": "y", "type": "quantitative", "scale": {"domain": [0,120], "nice": false}, "axis": {"title": "Cell Viability %"}}, "text": {"field": "t", "type": "nominal"}, "color": {"value": "black"}}}
  ]
 },
 {"width": 176, "height": 116,
  "encoding": {
   "x": {"field": "g", "type": "nominal", "sort": ["Control","Light Control","25/0.17","25/0.175","50/0.35","100/0.7"], "scale": {"paddingInner": 0.12, "paddingOuter": 0.06}, "axis": {"title": null}},
   "xOffset": {"field": "s", "type": "nominal", "sort": ["AS-2MPA","ALA","AS-2MPA-ALA","AS-2MPA-ALA-Cet","AS-2MPA-ALA-Cet-5FU"], "scale": {"paddingInner": 0.3, "paddingOuter": 0.15}},
   "color": {"field": "s", "type": "nominal", "scale": {"domain": ["AS-2MPA","ALA","AS-2MPA-ALA","AS-2MPA-ALA-Cet","AS-2MPA-ALA-Cet-5FU"], "range": ["#2b46f5","#fb1c1c","#3cf02a","#9a3ef0","#ff8a2a"]}, "legend": {"title": null}}
  },
  "layer": [
   {"data": {"name": "bars"}, "transform": [{"filter": "datum.r=='SW480-24h'&&datum.c=='ADH'"}], "mark": {"type": "bar"}, "encoding": {"y": {"field": "v", "type": "quantitative", "scale": {"domain": [0,120], "nice": false}, "axis": {"title": null}}}},
   {"data": {"name": "bars"}, "transform": [{"filter": "datum.r=='SW480-24h'&&datum.c=='ADH'"}], "mark": {"type": "rule", "strokeWidth": 1.5}, "encoding": {"y": {"field": "v", "type": "quantitative", "scale": {"domain": [0,120], "nice": false}, "axis": {"title": null}}, "y2": {"field": "hi"}}},
   {"data": {"name": "bars"}, "transform": [{"filter": "datum.r=='SW480-24h'&&datum.c=='ADH'"}], "mark": {"type": "tick", "thickness": 1.5, "size": 4}, "encoding": {"y": {"field": "hi", "type": "quantitative", "scale": {"domain": [0,120], "nice": false}, "axis": {"title": null}}}},
   {"data": {"name": "bars"}, "transform": [{"filter": "datum.r=='SW480-24h'&&datum.c=='ADH'&&datum.sig=='*'"}], "mark": {"type": "text", "baseline": "bottom", "dy": -1, "fontWeight": "bold", "fontSize": 9}, "encoding": {"y": {"field": "hi", "type": "quantitative", "scale": {"domain": [0,120], "nice": false}, "axis": {"title": null}}, "text": {"field": "sig", "type": "nominal"}}},
   {"data": {"name": "bars"}, "transform": [{"filter": "datum.r=='SW480-24h'&&datum.c=='ADH'&&datum.sig=='***'"}], "mark": {"type": "text", "baseline": "bottom", "align": "left", "dx": -3, "dy": -1, "fontWeight": "bold", "fontSize": 9}, "encoding": {"y": {"field": "hi", "type": "quantitative", "scale": {"domain": [0,120], "nice": false}, "axis": {"title": null}}, "text": {"field": "sig", "type": "nominal"}}},
   {"data": {"name": "br"}, "transform": [{"filter": "datum.r=='SW480-24h'&&datum.c=='ADH'"}], "mark": {"type": "line", "strokeWidth": 1.5}, "encoding": {"y": {"field": "y", "type": "quantitative", "scale": {"domain": [0,120], "nice": false}, "axis": {"title": null}}, "order": {"field": "o", "type": "quantitative"}, "detail": {"field": "id", "type": "nominal"}, "color": {"value": "black"}}},
   {"data": {"name": "bl"}, "transform": [{"filter": "datum.r=='SW480-24h'&&datum.c=='ADH'"}], "mark": {"type": "text", "baseline": "bottom", "dy": -2, "dx": 3.5, "fontWeight": "bold", "fontSize": 10}, "encoding": {"y": {"field": "y", "type": "quantitative", "scale": {"domain": [0,120], "nice": false}, "axis": {"title": null}}, "text": {"field": "t", "type": "nominal"}, "color": {"value": "black"}}}
  ]
 },
 {"width": 176, "height": 116,
  "encoding": {
   "x": {"field": "g", "type": "nominal", "sort": ["Control","Light Control","25/0.17","25/0.175","50/0.35","100/0.7"], "scale": {"paddingInner": 0.12, "paddingOuter": 0.06}, "axis": {"title": null}},
   "xOffset": {"field": "s", "type": "nominal", "sort": ["AS-2MPA","ALA","AS-2MPA-ALA","AS-2MPA-ALA-Cet","AS-2MPA-ALA-Cet-5FU"], "scale": {"paddingInner": 0.3, "paddingOuter": 0.15}},
   "color": {"field": "s", "type": "nominal", "scale": {"domain": ["AS-2MPA","ALA","AS-2MPA-ALA","AS-2MPA-ALA-Cet","AS-2MPA-ALA-Cet-5FU"], "range": ["#2b46f5","#fb1c1c","#3cf02a","#9a3ef0","#ff8a2a"]}, "legend": {"title": null}}
  },
  "layer": [
   {"data": {"name": "bars"}, "transform": [{"filter": "datum.r=='SW480-24h'&&datum.c=='Amide'"}], "mark": {"type": "bar"}, "encoding": {"y": {"field": "v", "type": "quantitative", "scale": {"domain": [0,120], "nice": false}, "axis": {"title": null}}}},
   {"data": {"name": "bars"}, "transform": [{"filter": "datum.r=='SW480-24h'&&datum.c=='Amide'"}], "mark": {"type": "rule", "strokeWidth": 1.5}, "encoding": {"y": {"field": "v", "type": "quantitative", "scale": {"domain": [0,120], "nice": false}, "axis": {"title": null}}, "y2": {"field": "hi"}}},
   {"data": {"name": "bars"}, "transform": [{"filter": "datum.r=='SW480-24h'&&datum.c=='Amide'"}], "mark": {"type": "tick", "thickness": 1.5, "size": 4}, "encoding": {"y": {"field": "hi", "type": "quantitative", "scale": {"domain": [0,120], "nice": false}, "axis": {"title": null}}}},
   {"data": {"name": "bars"}, "transform": [{"filter": "datum.r=='SW480-24h'&&datum.c=='Amide'&&datum.sig"}], "mark": {"type": "text", "baseline": "bottom", "dy": -1, "fontWeight": "bold", "fontSize": 9}, "encoding": {"y": {"field": "hi", "type": "quantitative", "scale": {"domain": [0,120], "nice": false}, "axis": {"title": null}}, "text": {"field": "sig", "type": "nominal"}}},
   {"data": {"name": "br"}, "transform": [{"filter": "datum.r=='SW480-24h'&&datum.c=='Amide'"}], "mark": {"type": "line", "strokeWidth": 1.5}, "encoding": {"y": {"field": "y", "type": "quantitative", "scale": {"domain": [0,120], "nice": false}, "axis": {"title": null}}, "order": {"field": "o", "type": "quantitative"}, "detail": {"field": "id", "type": "nominal"}, "color": {"value": "black"}}},
   {"data": {"name": "bl"}, "transform": [{"filter": "datum.r=='SW480-24h'&&datum.c=='Amide'"}], "mark": {"type": "text", "baseline": "bottom", "dy": -2, "dx": 3.5, "fontWeight": "bold", "fontSize": 10}, "encoding": {"y": {"field": "y", "type": "quantitative", "scale": {"domain": [0,120], "nice": false}, "axis": {"title": null}}, "text": {"field": "t", "type": "nominal"}, "color": {"value": "black"}}}
  ]
 }
], "spacing": 2, "resolve": {"scale": {"x": "independent", "y": "independent", "xOffset": "independent"}}},
{"hconcat": [
 {"width": 22, "height": 110, "data": {"values": [{"t": "HT29-24h"}]}, "mark": {"type": "text", "angle": 270, "font": "Liberation Serif", "fontSize": 18, "color": "black"}, "encoding": {"text": {"field": "t", "type": "nominal"}}, "view": {"fill": "#c9c9c9", "stroke": "#6f8fca", "strokeWidth": 1.5, "cornerRadius": 5}},
 {"width": 176, "height": 116,
  "encoding": {
   "x": {"field": "g", "type": "nominal", "sort": ["Control","Light Control","25/0.17","25/0.175","50/0.35","100/0.7"], "scale": {"paddingInner": 0.12, "paddingOuter": 0.06}, "axis": {"title": "Ag Concentration (μg/mL)/ALA (mM)"}},
   "xOffset": {"field": "s", "type": "nominal", "sort": ["AS-2MPA","ALA","AS-2MPA-ALA","AS-2MPA-ALA-Cet","AS-2MPA-ALA-Cet-5FU"], "scale": {"paddingInner": 0.3, "paddingOuter": 0.15}},
   "color": {"field": "s", "type": "nominal", "scale": {"domain": ["AS-2MPA","ALA","AS-2MPA-ALA","AS-2MPA-ALA-Cet","AS-2MPA-ALA-Cet-5FU"], "range": ["#2b46f5","#fb1c1c","#3cf02a","#9a3ef0","#ff8a2a"]}, "legend": {"title": null}}
  },
  "layer": [
   {"data": {"name": "bars"}, "transform": [{"filter": "datum.r=='HT29-24h'&&datum.c=='Electrostatic'"}], "mark": {"type": "bar"}, "encoding": {"y": {"field": "v", "type": "quantitative", "scale": {"domain": [0,120], "nice": false}, "axis": {"title": "Cell Viability %"}}}},
   {"data": {"name": "bars"}, "transform": [{"filter": "datum.r=='HT29-24h'&&datum.c=='Electrostatic'"}], "mark": {"type": "rule", "strokeWidth": 1.5}, "encoding": {"y": {"field": "v", "type": "quantitative", "scale": {"domain": [0,120], "nice": false}, "axis": {"title": "Cell Viability %"}}, "y2": {"field": "hi"}}},
   {"data": {"name": "bars"}, "transform": [{"filter": "datum.r=='HT29-24h'&&datum.c=='Electrostatic'"}], "mark": {"type": "tick", "thickness": 1.5, "size": 4}, "encoding": {"y": {"field": "hi", "type": "quantitative", "scale": {"domain": [0,120], "nice": false}, "axis": {"title": "Cell Viability %"}}}},
   {"data": {"name": "bars"}, "transform": [{"filter": "datum.r=='HT29-24h'&&datum.c=='Electrostatic'&&datum.sig=='*'"}], "mark": {"type": "text", "baseline": "bottom", "dy": -1, "fontWeight": "bold", "fontSize": 9}, "encoding": {"y": {"field": "hi", "type": "quantitative", "scale": {"domain": [0,120], "nice": false}, "axis": {"title": "Cell Viability %"}}, "text": {"field": "sig", "type": "nominal"}}},
   {"data": {"name": "bars"}, "transform": [{"filter": "datum.r=='HT29-24h'&&datum.c=='Electrostatic'&&datum.sig=='***'"}], "mark": {"type": "text", "baseline": "bottom", "align": "left", "dx": -2.5, "dy": -1, "fontWeight": "bold", "fontSize": 9}, "encoding": {"y": {"field": "hi", "type": "quantitative", "scale": {"domain": [0,120], "nice": false}, "axis": {"title": "Cell Viability %"}}, "text": {"field": "sig", "type": "nominal"}}},
   {"data": {"name": "br"}, "transform": [{"filter": "datum.r=='HT29-24h'&&datum.c=='Electrostatic'"}], "mark": {"type": "line", "strokeWidth": 1.5}, "encoding": {"y": {"field": "y", "type": "quantitative", "scale": {"domain": [0,120], "nice": false}, "axis": {"title": "Cell Viability %"}}, "order": {"field": "o", "type": "quantitative"}, "detail": {"field": "id", "type": "nominal"}, "color": {"value": "black"}}},
   {"data": {"name": "bl"}, "transform": [{"filter": "datum.r=='HT29-24h'&&datum.c=='Electrostatic'"}], "mark": {"type": "text", "baseline": "bottom", "dy": -2, "dx": 3.5, "fontWeight": "bold", "fontSize": 10}, "encoding": {"y": {"field": "y", "type": "quantitative", "scale": {"domain": [0,120], "nice": false}, "axis": {"title": "Cell Viability %"}}, "text": {"field": "t", "type": "nominal"}, "color": {"value": "black"}}}
  ]
 },
 {"width": 176, "height": 116,
  "encoding": {
   "x": {"field": "g", "type": "nominal", "sort": ["Control","Light Control","25/0.17","25/0.175","50/0.35","100/0.7"], "scale": {"paddingInner": 0.12, "paddingOuter": 0.06}, "axis": {"title": "Ag Concentration (μg/mL)/ALA (mM)"}},
   "xOffset": {"field": "s", "type": "nominal", "sort": ["AS-2MPA","ALA","AS-2MPA-ALA","AS-2MPA-ALA-Cet","AS-2MPA-ALA-Cet-5FU"], "scale": {"paddingInner": 0.3, "paddingOuter": 0.15}},
   "color": {"field": "s", "type": "nominal", "scale": {"domain": ["AS-2MPA","ALA","AS-2MPA-ALA","AS-2MPA-ALA-Cet","AS-2MPA-ALA-Cet-5FU"], "range": ["#2b46f5","#fb1c1c","#3cf02a","#9a3ef0","#ff8a2a"]}, "legend": {"title": null}}
  },
  "layer": [
   {"data": {"name": "bars"}, "transform": [{"filter": "datum.r=='HT29-24h'&&datum.c=='ADH'"}], "mark": {"type": "bar"}, "encoding": {"y": {"field": "v", "type": "quantitative", "scale": {"domain": [0,120], "nice": false}, "axis": {"title": null}}}},
   {"data": {"name": "bars"}, "transform": [{"filter": "datum.r=='HT29-24h'&&datum.c=='ADH'"}], "mark": {"type": "rule", "strokeWidth": 1.5}, "encoding": {"y": {"field": "v", "type": "quantitative", "scale": {"domain": [0,120], "nice": false}, "axis": {"title": null}}, "y2": {"field": "hi"}}},
   {"data": {"name": "bars"}, "transform": [{"filter": "datum.r=='HT29-24h'&&datum.c=='ADH'"}], "mark": {"type": "tick", "thickness": 1.5, "size": 4}, "encoding": {"y": {"field": "hi", "type": "quantitative", "scale": {"domain": [0,120], "nice": false}, "axis": {"title": null}}}},
   {"data": {"name": "bars"}, "transform": [{"filter": "datum.r=='HT29-24h'&&datum.c=='ADH'&&datum.sig=='*'"}], "mark": {"type": "text", "baseline": "bottom", "dy": -1, "fontWeight": "bold", "fontSize": 9}, "encoding": {"y": {"field": "hi", "type": "quantitative", "scale": {"domain": [0,120], "nice": false}, "axis": {"title": null}}, "text": {"field": "sig", "type": "nominal"}}}
  ]
 },
 {"width": 176, "height": 116,
  "encoding": {
   "x": {"field": "g", "type": "nominal", "sort": ["Control","Light Control","25/0.17","25/0.175","50/0.35","100/0.7"], "scale": {"paddingInner": 0.12, "paddingOuter": 0.06}, "axis": {"title": "Ag Concentration (μg/mL)/ALA (mM)"}},
   "xOffset": {"field": "s", "type": "nominal", "sort": ["AS-2MPA","ALA","AS-2MPA-ALA","AS-2MPA-ALA-Cet","AS-2MPA-ALA-Cet-5FU"], "scale": {"paddingInner": 0.3, "paddingOuter": 0.15}},
   "color": {"field": "s", "type": "nominal", "scale": {"domain": ["AS-2MPA","ALA","AS-2MPA-ALA","AS-2MPA-ALA-Cet","AS-2MPA-ALA-Cet-5FU"], "range": ["#2b46f5","#fb1c1c","#3cf02a","#9a3ef0","#ff8a2a"]}, "legend": {"title": null}}
  },
  "layer": [
   {"data": {"name": "bars"}, "transform": [{"filter": "datum.r=='HT29-24h'&&datum.c=='Amide'"}], "mark": {"type": "bar"}, "encoding": {"y": {"field": "v", "type": "quantitative", "scale": {"domain": [0,120], "nice": false}, "axis": {"title": null}}}},
   {"data": {"name": "bars"}, "transform": [{"filter": "datum.r=='HT29-24h'&&datum.c=='Amide'"}], "mark": {"type": "rule", "strokeWidth": 1.5}, "encoding": {"y": {"field": "v", "type": "quantitative", "scale": {"domain": [0,120], "nice": false}, "axis": {"title": null}}, "y2": {"field": "hi"}}},
   {"data": {"name": "bars"}, "transform": [{"filter": "datum.r=='HT29-24h'&&datum.c=='Amide'"}], "mark": {"type": "tick", "thickness": 1.5, "size": 4}, "encoding": {"y": {"field": "hi", "type": "quantitative", "scale": {"domain": [0,120], "nice": false}, "axis": {"title": null}}}},
   {"data": {"name": "bars"}, "transform": [{"filter": "datum.r=='HT29-24h'&&datum.c=='Amide'&&datum.sig=='*'"}], "mark": {"type": "text", "baseline": "bottom", "dy": -1, "fontWeight": "bold", "fontSize": 9}, "encoding": {"y": {"field": "hi", "type": "quantitative", "scale": {"domain": [0,120], "nice": false}, "axis": {"title": null}}, "text": {"field": "sig", "type": "nominal"}}}
  ]
 }
], "spacing": 2, "resolve": {"scale": {"x": "independent", "y": "independent", "xOffset": "independent"}}}
],
"spacing": 0,
"resolve": {"scale": {"color": "independent"}, "legend": {"color": "independent"}},
"config": {
 "font": "Liberation Sans",
 "view": {"stroke": "black", "strokeWidth": 1.5},
 "axis": {"grid": false, "domainColor": "black", "domainWidth": 1.5, "tickColor": "black", "tickWidth": 1.5, "tickSize": 4, "labelColor": "black", "labelFont": "Liberation Sans", "labelFontWeight": "bold", "labelFontSize": 9, "titleFont": "Liberation Sans", "titleFontWeight": "bold", "titleFontSize": 10, "titleColor": "black"},
 "axisX": {"labelAngle": -45, "labelPadding": 1, "titleFontSize": 10, "titlePadding": 14},
 "axisY": {"values": [0,20,40,60,80,100,120], "labelPadding": 2, "titlePadding": 1},
 "legend": {"labelFont": "Liberation Sans", "labelFontSize": 9, "labelColor": "black", "symbolType": "M-1,-0.45H1V0.45H-1Z", "symbolSize": 196, "symbolStrokeWidth": 0, "symbolOpacity": 1, "rowPadding": 3, "offset": 5, "labelOffset": 10, "labelLimit": 0, "padding": 0}
}
}
